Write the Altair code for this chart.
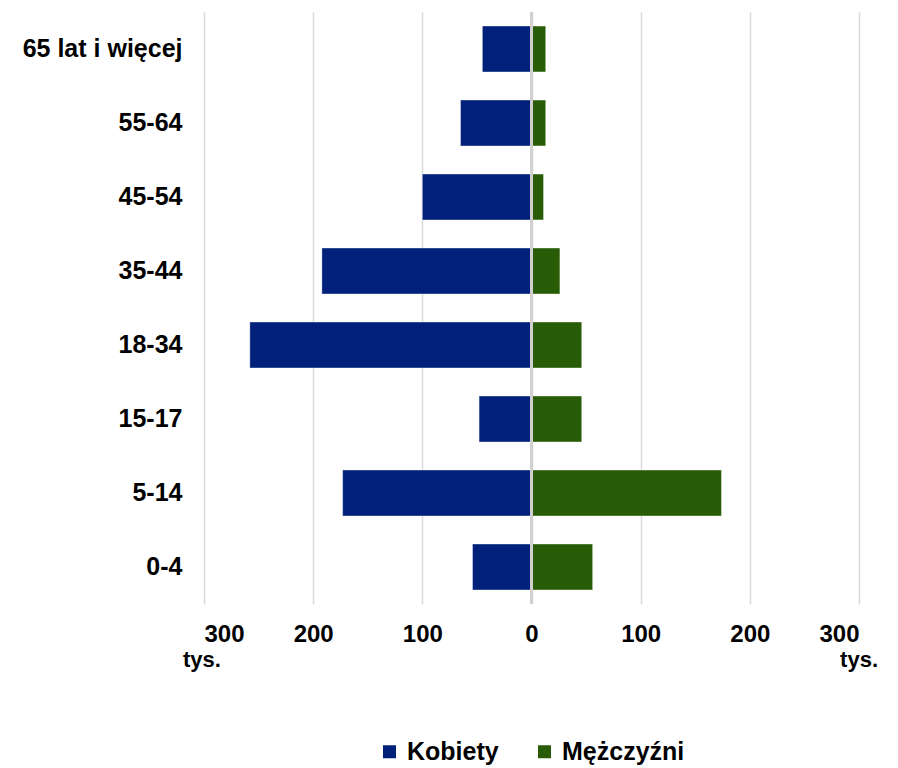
import altair as alt
import pandas as pd

ages = ["65 lat i więcej", "55-64", "45-54", "35-44", "18-34", "15-17", "5-14", "0-4"]
kobiety = [45, 65, 100, 192, 258, 48, 173, 54]
mezczyzni = [13, 13, 11, 26, 46, 46, 174, 56]
series = ["Kobiety", "Mężczyźni"]
colors = ["#00207a", "#285c06"]
ticks = [-300, -200, -100, 0, 100, 200, 300]
unit_label = "tys."

rows = []
for a, k, m in zip(ages, kobiety, mezczyzni):
    rows.append({"age": a, "sex": series[0], "value": -k})
    rows.append({"age": a, "sex": series[1], "value": m})
df = pd.DataFrame(rows)

FONT = "Liberation Sans"
x_scale = alt.Scale(domain=[ticks[0], ticks[-1]], nice=False, zero=False)
x_axis = alt.Axis(values=ticks, labelExpr="abs(datum.value)", title=None,
                  grid=True, gridColor="#d9d9d9", gridWidth=1.5,
                  domain=False, ticks=False, labelFont=FONT, labelFontSize=24,
                  labelFontWeight="bold", labelColor="black", labelPadding=18)

bars = alt.Chart(df).mark_bar(stroke="white", strokeOpacity=0.35, strokeWidth=1).encode(
    x=alt.X("value:Q", scale=x_scale, axis=x_axis),
    y=alt.Y("age:N", sort=ages, scale=alt.Scale(paddingInner=0.38, paddingOuter=0.19),
            axis=alt.Axis(title=None, domain=False, ticks=False, labelFont=FONT,
                          labelFontSize=25, labelFontWeight="bold", labelColor="black",
                          labelPadding=22)),
    color=alt.Color("sex:N", scale=alt.Scale(domain=series, range=colors),
                    legend=alt.Legend(title=None, orient="none", legendX=173, legendY=727,
                                      direction="horizontal", symbolType="square",
                                      symbolSize=169, symbolStrokeWidth=0,
                                      labelFont=FONT, labelFontSize=25, labelFontWeight="bold",
                                      labelColor="black", labelOffset=5, columnPadding=33)),
)

zero = alt.Chart(pd.DataFrame({"value": [0]})).mark_rule(color="#d0d0d0", strokeWidth=3).encode(
    x=alt.X("value:Q", scale=x_scale, axis=x_axis)
)

unit_left = alt.Chart(pd.DataFrame({"value": [ticks[0]], "t": [unit_label]})).mark_text(
    align="left", baseline="alphabetic", dx=-21, font=FONT, fontSize=22, fontWeight="bold", color="black"
).encode(x=alt.X("value:Q", scale=x_scale, axis=x_axis), y=alt.value(655), text="t:N")

unit_right = alt.Chart(pd.DataFrame({"value": [ticks[-1]], "t": [unit_label]})).mark_text(
    align="right", baseline="alphabetic", dx=19, font=FONT, fontSize=22, fontWeight="bold", color="black"
).encode(x=alt.X("value:Q", scale=x_scale, axis=x_axis), y=alt.value(655), text="t:N")

chart = alt.layer(bars, zero, unit_left, unit_right).properties(
    width=655, height=592, autosize=alt.AutoSizeParams(type="none"),
    padding={"left": 196, "top": 4, "right": 30, "bottom": 164}
).configure_view(stroke=None)

chart.save("out.html", embed_options={"renderer": "svg", "actions": False})
